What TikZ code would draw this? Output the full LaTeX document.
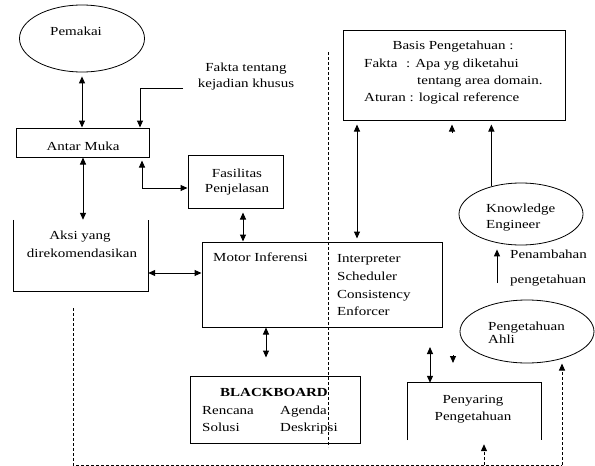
\documentclass[tikz,border=0pt]{standalone}
\usepackage{fontspec}
\setmainfont{Liberation Serif}[FakeStretch=1.22]
\usetikzlibrary{arrows.meta,shapes.geometric,calc}
\begin{document}
\begin{tikzpicture}[x=1pt,y=-1pt,
  txt/.style={font=\fontsize{12.3}{14}\selectfont, inner sep=0, anchor=base west},
  ctxt/.style={font=\fontsize{12.3}{14}\selectfont, inner sep=0, anchor=base},
  box/.style={draw, line width=1pt, inner sep=0, rectangle},
  hid/.style={inner sep=0, rectangle},
  ell/.style={ellipse, draw, line width=0.8pt, inner sep=0},
  arr/.style={-{Triangle[length=7pt,width=6pt]}, line width=1pt},
  dbl/.style={{Triangle[length=7pt,width=6pt]}-{Triangle[length=7pt,width=6pt]}, line width=1pt},
  dsh/.style={line width=0.8pt, dash pattern=on 3pt off 2pt}]
\useasboundingbox[fill=white] (0,0) rectangle (595,466);

% shapes
\node[ell, minimum width=125pt, minimum height=67pt] (pemakai) at (82,38.5) {};
\node[ctxt] (pemakaiT) at (76,35) {Pemakai};

\node[ctxt, align=center] (fakta) at (246,71) {Fakta tentang};
\node[ctxt] (fakta2) at (246,87) {kejadian khusus};

\node[box, minimum width=133pt, minimum height=29pt] (antarmuka) at (83,142.5) {};
\node[ctxt] (antarmukaT) at (83,150) {Antar Muka};

\node[hid, minimum width=134pt, minimum height=71pt] (aksi) at (81,255.5) {};
\draw[line width=1pt] (aksi.north west) -- (aksi.south west) -- (aksi.south east) -- (aksi.north east);
\node[ctxt] (aksiT1) at (80,239) {Aksi yang};
\node[ctxt] (aksiT2) at (82,257) {direkomendasikan};

\node[box, minimum width=95pt, minimum height=53pt] (fasilitas) at (235.5,181.5) {};
\node[ctxt] (fasT1) at (237,177) {Fasilitas};
\node[ctxt] (fasT2) at (237,192) {Penjelasan};

\node[box, minimum width=240pt, minimum height=85pt] (motor) at (322,284.5) {};
\node[txt] (motorT) at (213,261) {Motor Inferensi};
\node[txt] (interp) at (337,262) {Interpreter};
\node[txt] (sched) at (337,280) {Scheduler};
\node[txt] (consis) at (337,298) {Consistency};
\node[txt] (enforc) at (337,315) {Enforcer};

\node[box, minimum width=222pt, minimum height=90pt] (basis) at (454,75) {};
\node[ctxt] (basisT) at (453,49) {Basis Pengetahuan :};
\node[txt] (faktaK) at (364,67) {Fakta};
\node[txt] (apa) at (406,67) {: Apa yg diketahui};
\node[txt] (tentang) at (417,84) {tentang area domain.};
\node[txt] (aturan) at (364,101) {Aturan : logical reference};

\node[ell, minimum width=124pt, minimum height=62pt] (knowledge) at (521,214) {};
\node[txt] (knowT1) at (486,212) {Knowledge};
\node[txt] (knowT2) at (486,228) {Engineer};

\node[txt] (penamb1) at (510,258) {Penambahan};
\node[txt] (penamb2) at (510,283) {pengetahuan};

\node[ell, minimum width=134pt, minimum height=63pt] (ahli) at (527,331.5) {};
\node[txt] (ahliT1) at (488,330) {Pengetahuan};
\node[txt] (ahliT2) at (488,343) {Ahli};

\node[hid, minimum width=133pt, minimum height=57pt] (penyaring) at (474.5,411.5) {};
\draw[line width=1pt] (penyaring.south west) -- (penyaring.north west) -- (penyaring.north east) -- (penyaring.south east);
\node[ctxt] (penyT1) at (473,403) {Penyaring};
\node[ctxt] (penyT2) at (473,420) {Pengetahuan};

\node[box, minimum width=170pt, minimum height=67pt] (blackboard) at (275,409.5) {};
\node[ctxt, font=\fontsize{12.3}{14}\selectfont\bfseries] (bbT) at (274,396) {BLACKBOARD};
\node[txt] (rencana) at (202,414) {Rencana};
\node[txt] (solusi) at (202,431) {Solusi};
\node[txt] (agenda) at (280,414) {Agenda};
\node[txt] (deskripsi) at (280,431) {Deskripsi};

% free ends
\coordinate (faktaL) at (183,88);
\coordinate (hd1) at (452,133);
\coordinate (penambB) at (497,283);
\coordinate (filterT) at (430,347);
\coordinate (hd2) at (453,355);
\coordinate (dotT) at (328,52);
\coordinate (dotB) at (328,447);
\coordinate (dashL) at (73,308);
\coordinate (dashR) at (562,465);
\coordinate (dashM) at (484,465);

% connectors
\draw[dbl, shorten <=4pt] (pemakai.south) -- (pemakai.south |- antarmuka.north);
\draw[arr] (faktaL) -| ([xshift=-10pt]antarmuka.north east);
\draw[dbl] (antarmuka.south) -- (antarmuka.south |- aksi.north);
\draw[dbl, shorten <=3pt] ([xshift=-8pt]antarmuka.south east) |- ([yshift=-6.5pt]fasilitas.west);
\draw[dbl, shorten <=4pt] ([xshift=7.5pt]fasilitas.south) -- ([xshift=7.5pt]fasilitas.south |- motor.north);
\draw[dbl] ([yshift=-17.5pt]aksi.east) -- ([yshift=-17.5pt]aksi.east -| motor.west);
\draw[dbl, shorten <=3pt, shorten >=4pt] ([xshift=35pt]motor.north) -- ([xshift=35pt]motor.north |- basis.south);
\draw[arr, shorten >=4pt] (hd1) -- (hd1 |- basis.south);
\draw[arr, shorten >=4pt] (knowledge.137) -- (knowledge.137 |- basis.south);
\draw[arr, shorten >=4pt] (penambB) -- (penambB |- knowledge.south);
\draw[dbl] (filterT) -- (filterT |- penyaring.north);
\draw[arr] (hd2) -- ++(0,8);
\draw[dbl, shorten <=18pt] ([xshift=-9pt]blackboard.north) -- ([xshift=-9pt]blackboard.north |- motor.south);
\draw[dsh] (dotT) -- (dotB);
\draw[dsh] (dashL) |- (dashR);
\draw[dsh, arr, shorten >=5pt] (dashR) -- (dashR |- ahli.-37.5);
\draw[dsh, arr, shorten >=4pt] (dashM) -- (dashM |- penyaring.south);
\end{tikzpicture}
\end{document}
